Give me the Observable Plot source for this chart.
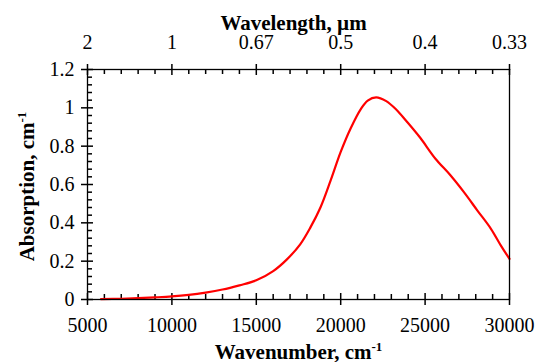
<!DOCTYPE html>
<html><head><meta charset="utf-8">
<script src="https://cdn.jsdelivr.net/npm/d3@7"></script>
<script src="https://cdn.jsdelivr.net/npm/@observablehq/plot@0.6"></script>
<style>html,body{margin:0;padding:0;background:#fff} svg{display:block}</style>
</head><body><div id="chart"></div>
<script>
// Data
const wavenumber = [5800, 7000, 8000, 9000, 10000, 11000, 12000, 13000, 14000, 15000, 16000, 16800, 17600, 18200, 18800, 19400, 20000, 20600, 21200, 21600, 22100, 22700, 23300, 23900, 24700, 25600, 26500, 27300, 28100, 28900, 29500, 30000];
const absorption = [0.002, 0.004, 0.007, 0.011, 0.016, 0.024, 0.036, 0.052, 0.074, 0.100, 0.148, 0.208, 0.288, 0.375, 0.48, 0.62, 0.77, 0.895, 0.995, 1.038, 1.055, 1.035, 0.99, 0.93, 0.845, 0.736, 0.648, 0.56, 0.464, 0.369, 0.28, 0.212];

const xTicks = [5000, 10000, 15000, 20000, 25000, 30000];
const xTickLabels = ["5000", "10000", "15000", "20000", "25000", "30000"];
const wavelengthLabels = ["2", "1", "0.67", "0.5", "0.4", "0.33"];
const yTicks = [0, 0.2, 0.4, 0.6, 0.8, 1, 1.2];
const yTickLabels = ["0", "0.2", "0.4", "0.6", "0.8", "1", "1.2"];
const xMinor = [6000, 7000, 8000, 9000, 11000, 12000, 13000, 14000, 16000, 17000, 18000, 19000, 21000, 22000, 23000, 24000, 26000, 27000, 28000, 29000];
const yMinor = [0.04, 0.08, 0.12, 0.16, 0.24, 0.28, 0.32, 0.36, 0.44, 0.48, 0.52, 0.56, 0.64, 0.68, 0.72, 0.76, 0.84, 0.88, 0.92, 0.96, 1.04, 1.08, 1.12, 1.16];

const topTitle = "Wavelength, µm";
const bottomTitle = "Wavenumber, cm-1";
const leftTitle = "Absorption, cm-1";

const W = 536, H = 362, mL = 87, mR = 27, mT = 69, mB = 63;
const iw = W - mL - mR, ih = H - mT - mB;
const data = wavenumber.map((x, i) => ({x, y: absorption[i]}));
const font = "Liberation Serif";
const ink = "#000";
const tw = 1.5;
const axisText = {fontSize: 20, fontFamily: font, fontVariant: "normal", fill: ink, stroke: ink, strokeWidth: tw, label: null};

const plot = Plot.plot({
  width: W, height: H,
  marginLeft: mL, marginRight: mR, marginTop: mT, marginBottom: mB,
  style: {fontSize: "20px", fontFamily: font, color: "#000", background: "#fff"},
  x: {domain: [5000, 30000]},
  y: {domain: [0, 1.2]},
  marks: [
    Plot.axisX({anchor: "bottom", ticks: xTicks, tickFormat: d => xTickLabels[xTicks.indexOf(d)], tickSize: 6, tickPadding: 12, ...axisText}),
    Plot.axisX({anchor: "top", ticks: xTicks, tickFormat: d => wavelengthLabels[xTicks.indexOf(d)], tickSize: 6, tickPadding: 15, ...axisText}),
    Plot.axisY({anchor: "left", ticks: yTicks, tickFormat: d => yTickLabels[yTicks.indexOf(d)], tickSize: 6, tickPadding: 7, ...axisText}),
    Plot.ruleX(xTicks, {x: d => d, insetTop: ih - 6, stroke: ink, strokeWidth: tw}),
    Plot.ruleX(xTicks, {x: d => d, insetBottom: ih - 6, stroke: ink, strokeWidth: tw}),
    Plot.ruleX(xMinor, {x: d => d, insetTop: ih - 5, stroke: ink, strokeWidth: tw}),
    Plot.ruleX(xMinor, {x: d => d, insetBottom: ih - 5, stroke: ink, strokeWidth: tw}),
    Plot.ruleY(yTicks, {y: d => d, insetRight: iw - 6, stroke: ink, strokeWidth: tw}),
    Plot.ruleY(yMinor, {y: d => d, insetRight: iw - 5, stroke: ink, strokeWidth: tw}),
    Plot.line(data, {x: "x", y: "y", stroke: "#ff0000", strokeWidth: 2.2, curve: "catmull-rom"}),
    Plot.frame({stroke: ink, strokeWidth: 1.3}),
    Plot.text([topTitle], {text: d => d, frameAnchor: "top", textAnchor: "middle", lineAnchor: "bottom", dy: -40, dx: -5, fontWeight: "bold", fontSize: 21, fontFamily: font, fill: ink}),
    Plot.text([bottomTitle], {text: d => d, frameAnchor: "bottom", textAnchor: "middle", lineAnchor: "bottom", dy: 59, fontWeight: "bold", fontSize: 21, fontFamily: font, fill: ink}),
    Plot.text([leftTitle], {text: d => d, frameAnchor: "left", textAnchor: "middle", lineAnchor: "bottom", rotate: -90, dx: -54, dy: 2, fontWeight: "bold", fontSize: 21, fontFamily: font, fill: ink})
  ]
});

// tick label text should not be stroked
for (const t of plot.querySelectorAll("g[aria-label$='tick label']")) t.setAttribute("stroke", "none");

for (const t of plot.querySelectorAll("text")) {
  if (t.textContent.endsWith("cm-1")) {
    t.textContent = t.textContent.slice(0, -2);
    const ts = document.createElementNS("http://www.w3.org/2000/svg", "tspan");
    ts.setAttribute("dy", "-8");
    ts.setAttribute("font-size", "13");
    ts.textContent = "-1";
    t.appendChild(ts);
  }
}
document.getElementById("chart").appendChild(plot);
</script>
</body></html>
